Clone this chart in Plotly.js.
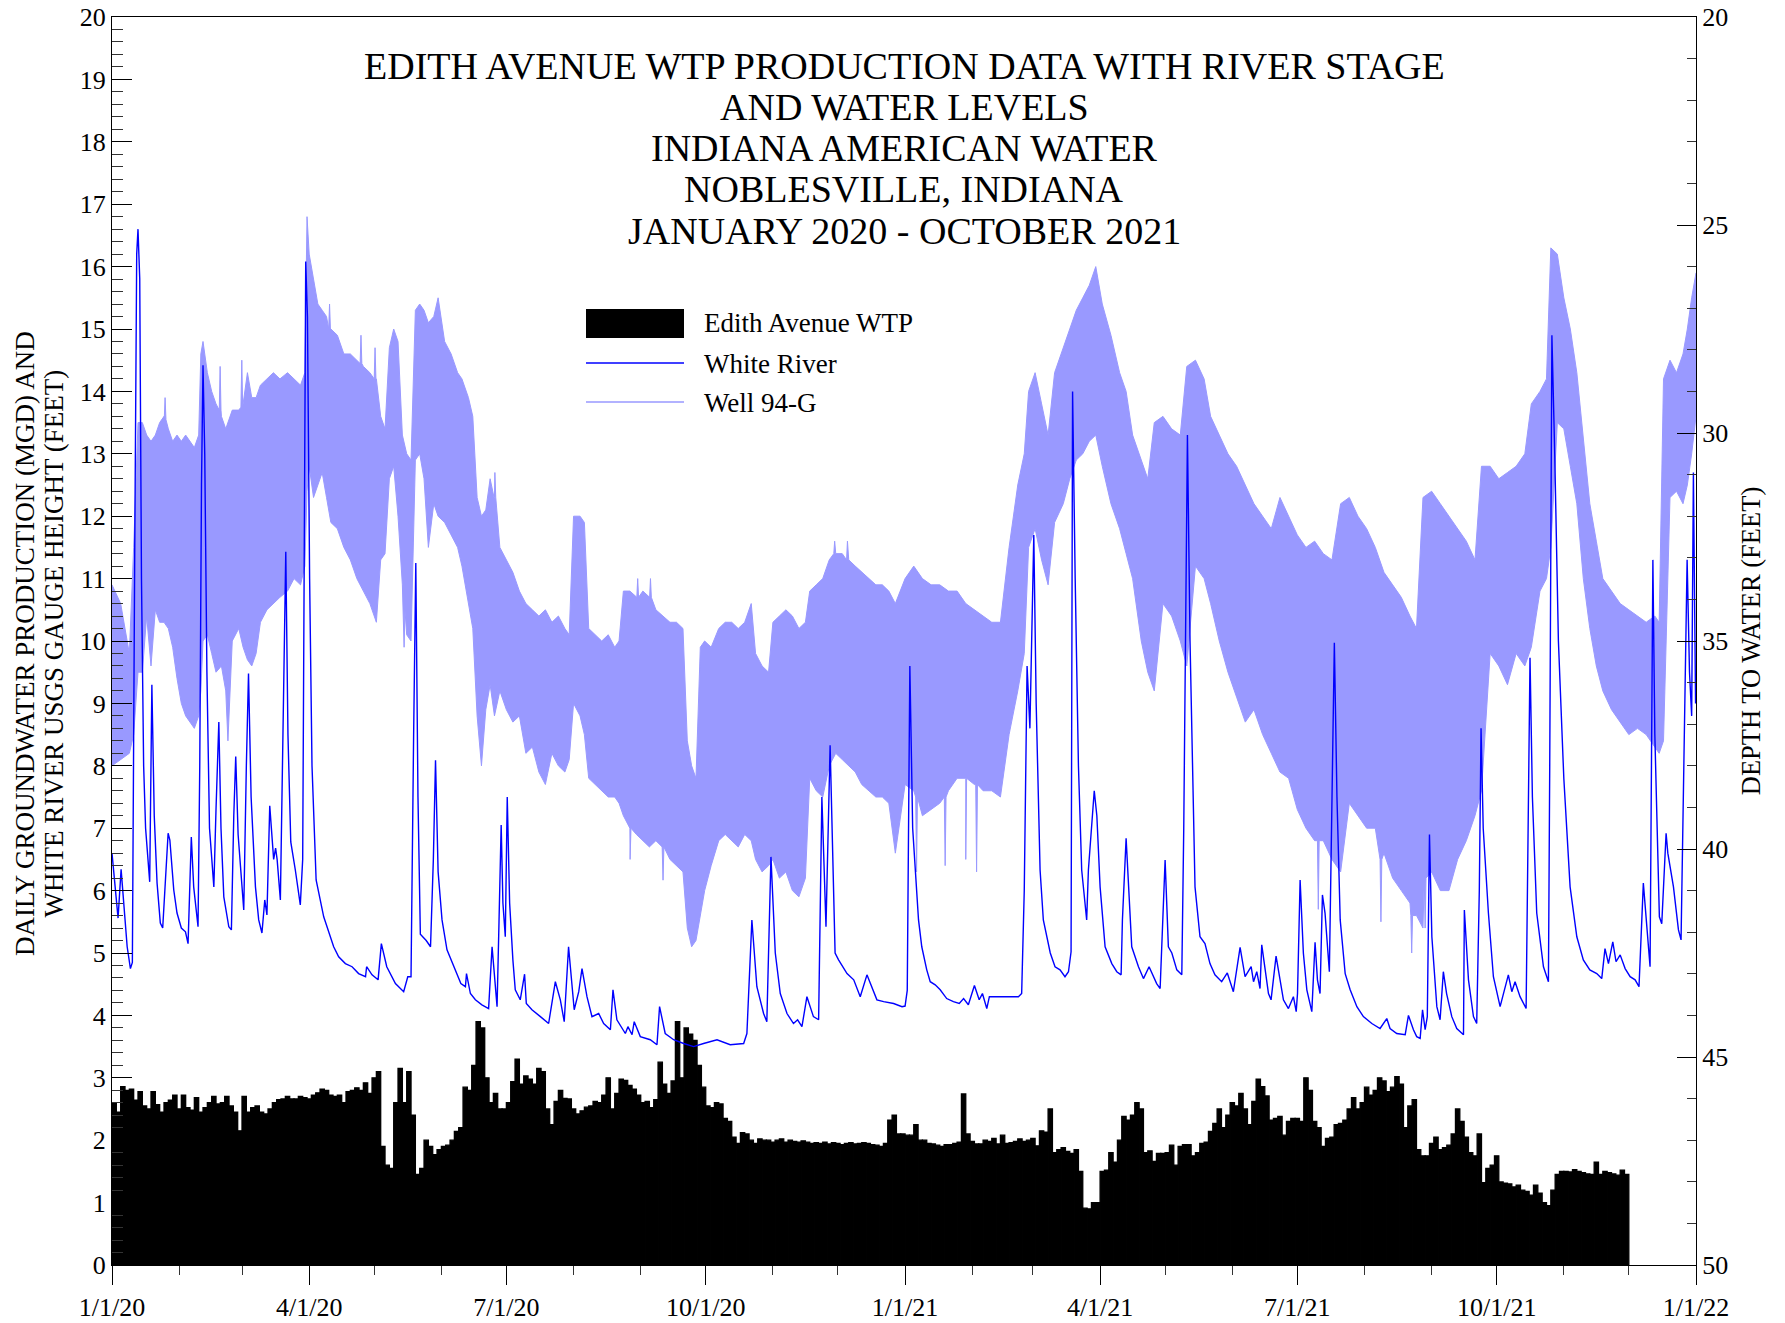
<!DOCTYPE html>
<html><head><meta charset="utf-8">
<script src="https://cdn.plot.ly/plotly-3.0.1.min.js"></script>
<style>html,body{margin:0;padding:0;background:#fff}#chart{width:1785px;height:1323px}</style>
</head><body><div id="chart"></div>
<script>
const FONT = 'Liberation Serif, Times New Roman, serif';
const DAY_MS = 86400000;
const START = Date.UTC(2020, 0, 1);
function dayToDate(d) { return new Date(START + d * DAY_MS).toISOString().slice(0, 19).replace('T', ' '); }

// Edith Avenue WTP production (MGD), one value per 2-day period starting 1/1/20
const prodMGD = [
2.6,2.45,2.86,2.8,2.82,2.64,2.78,2.55,2.5,2.78,
2.57,2.45,2.6,2.64,2.72,2.5,2.72,2.52,2.48,2.68,
2.45,2.52,2.6,2.7,2.58,2.6,2.7,2.55,2.45,2.15,
2.7,2.45,2.52,2.55,2.45,2.42,2.5,2.6,2.65,2.66,
2.7,2.66,2.66,2.7,2.68,2.66,2.72,2.76,2.82,2.8,
2.72,2.7,2.72,2.6,2.78,2.8,2.84,2.8,2.92,2.75,
3.0,3.1,1.9,1.6,1.55,2.6,3.15,2.6,3.1,2.4,
1.45,1.55,2.0,1.9,1.77,1.85,1.9,1.92,2.0,2.14,
2.2,2.85,2.8,3.2,3.9,3.8,3.0,2.6,2.75,2.5,
2.5,
2.6,2.94,3.3,2.9,3.03,2.98,2.9,3.15,3.1,2.5,
2.25,2.62,2.8,2.67,2.66,2.5,2.42,2.47,2.53,2.55,
2.62,2.6,2.72,3.0,2.5,2.75,2.98,2.96,2.88,2.82,
2.72,2.6,2.62,2.52,2.65,3.25,2.9,2.75,2.95,3.9,
3.0,3.8,3.7,3.6,3.2,2.85,2.55,2.52,2.6,2.58,
2.35,2.3,2.05,1.95,2.12,2.1,2.0,1.95,2.02,2.0,
2.0,1.97,2.0,2.02,1.97,2.0,1.98,1.97,1.99,1.97,
1.95,1.96,1.95,1.97,1.94,1.96,1.95,1.93,1.95,1.96,
1.94,1.95,1.96,1.95,1.93,1.92,1.9,1.95,2.32,2.4,
2.1,2.1,2.08,2.08,2.25,2.0,2.0,1.95,1.94,1.92,
1.9,1.93,1.93,1.95,1.97,2.74,2.1,1.98,1.94,1.94,
2.0,1.98,2.03,1.94,2.08,1.95,1.96,1.98,2.02,1.98,
2.0,2.03,1.91,2.15,2.13,2.5,1.8,1.85,1.88,1.82,
1.79,1.85,1.5,0.91,0.9,1.0,1.0,1.5,1.52,1.8,
1.65,2.0,2.38,2.32,2.4,2.6,2.5,1.8,1.83,1.66,
1.79,1.79,1.8,1.92,1.6,1.9,1.93,1.93,1.75,1.8,
1.95,1.97,2.14,2.27,2.5,2.2,2.4,2.6,2.55,2.75,
2.5,2.25,2.62,2.98,2.86,2.71,2.32,2.35,2.38,2.08,
2.3,2.35,
2.35,2.3,3.0,2.8,2.3,2.2,1.9,2.03,2.05,2.25,
2.27,2.32,2.5,2.68,2.5,2.6,2.85,2.72,2.8,3.0,
2.95,2.78,2.85,3.02,2.9,2.2,2.55,2.65,1.85,1.75,
1.75,1.95,2.05,1.85,1.88,1.92,2.1,2.5,2.3,2.05,
1.8,1.75,2.1,1.32,1.55,1.6,1.75,1.33,1.31,1.3,
1.25,1.28,1.2,1.18,1.12,1.28,1.15,1.0,0.95,1.2,
1.45,1.5,1.5,1.49,1.53,1.5,1.48,1.46,1.45,1.65,
1.45,1.5,1.48,1.46,1.44,1.52,1.45
];

// White River USGS gauge height (ft); riverDay = days after 1/1/20
const riverDay = [0,1.6,2.8,4.2,5.4,7,8.5,9.4,10.5,11.4,12,12.8,13.6,14.6,15.5,17.4,18.4,19.5,20.8,22.3,23.4,25.9,26.7,28.5,30,32,33.9,35.1,36.6,37.7,39.7,40.5,41.3,42,42.8,43.8,45,47,48,49.3,50.3,51.6,53.9,55.1,56.2,57.1,58.2,60,60.8,62,63,64.2,66.2,67.7,69.2,70.5,71.5,72.8,74.6,75.5,76.2,77.7,79,80.2,81.2,82.5,84.6,86.9,88,88.8,89.4,90.2,91.2,92.3,93.2,94.2,97.7,99.2,102.3,104.6,107.7,110.8,113.8,117,117.5,120,122.8,124.3,126.8,130.8,132.3,134.6,136.5,138,139.2,140.2,141.2,142.3,145,147,148.3,149.3,150.5,152.3,154.6,157,159.2,161,163.1,163.6,165.4,167.7,170.7,173.8,175.4,177.7,178.6,179.6,180.4,181.5,182.4,183.5,185,186.1,188.4,190.4,191.2,193.8,197.7,201.5,204.6,206.9,208.7,210.7,213.3,215.4,216.9,219.2,221.5,224.6,226.9,230,231.2,233,236.9,238.1,240,241,243.8,248.4,251.5,252.7,255.3,259.2,263.8,268.4,273,279.2,285.3,291.5,293,295.3,297.6,300.7,302.2,304.1,306.1,308.4,311.5,314.5,316.4,318.4,320.7,323.7,326.1,327.6,329.5,331.4,333.7,335.3,339.2,342.3,345.3,348.4,353,356.1,360.7,364.6,366,367,368.2,369.5,372.2,373.7,376,377.6,379.9,382.2,385.2,388.3,391,393,395.2,398,400.2,401.7,403.7,404.9,418.3,419.8,421,422.3,423.6,425.4,426.5,428.3,429.8,433,435.2,437.5,439.8,441.4,442.6,443.3,444.5,446,447.5,449.8,450.6,453.3,454.5,456,458.3,461.4,463.7,465.7,466.3,468,470.6,473.7,476,478.6,482.1,483.7,486,487.5,489.1,491.4,493.7,494.6,496.3,497.5,499.8,502.1,504.4,506.7,509,512.1,514.7,517.5,520.6,522.9,525.7,526.8,528.3,529.8,530.6,533.7,534.9,537.2,540.6,542.9,545.2,546.5,547.1,548.3,549.8,551.4,553.7,555.2,556.3,557.5,558.6,559.8,561.8,563,564.1,565.3,566.8,569.1,571.4,574.5,577.5,581.4,585.2,588.3,589.8,592.9,596.8,598.3,600.6,602.1,603.7,604.8,606,607,608,609.1,611.4,612.9,614.4,615.9,618.3,620.6,623.7,624.1,626,628.3,629.8,631,631.8,632.8,635.2,637.5,640.6,644.4,646,647.5,649.8,652.6,653.5,654.4,655.5,657.5,660.6,662.9,663.5,664.5,665.8,667.5,670,672.9,676,679,682,685.2,687.5,689,690.6,692.6,694.1,696,698.3,700.6,702.9,704.7,706.7,709.8,711.1,712,714.1,715.2,717.2,718,720.6,722.9,724.1,725.5,726.9,728,729,729.8,730.8];
const riverFt = [6.6,5.96,5.56,6.34,5.74,5.1,4.75,4.85,11.5,16.2,16.6,15.8,11,8.0,7.0,6.14,9.3,7.2,6.12,5.48,5.4,6.92,6.81,6.01,5.64,5.4,5.34,5.15,6.86,6.06,5.42,8,12.5,14.42,13,9.5,7,6.06,7.3,8.7,7.0,5.9,5.42,5.37,7.2,8.15,6.9,6.12,5.69,8.0,9.48,7.5,6.06,5.53,5.32,5.85,5.61,7.36,6.5,6.68,6.5,5.85,8.5,11.43,8.5,6.78,6.33,5.77,6.5,12,16.08,15.2,11,8,7.0,6.17,5.58,5.42,5.1,4.94,4.83,4.78,4.67,4.62,4.78,4.65,4.57,5.15,4.78,4.51,4.46,4.38,4.62,4.62,8.5,11.25,7.5,5.3,5.2,5.1,6.5,8.09,6.3,5.53,5.05,4.85,4.67,4.51,4.46,4.67,4.35,4.25,4.17,4.11,5.1,4.14,5.5,7.05,5.8,5.26,7.5,5.8,4.89,4.41,4.25,4.66,4.19,4.09,3.98,3.87,4.54,4.25,3.9,5.1,4.09,4.38,4.75,4.3,3.98,4.03,3.87,3.77,4.41,3.93,3.71,3.82,3.69,3.9,3.66,3.61,3.53,4.14,3.71,3.61,3.55,3.5,3.55,3.61,3.53,3.55,3.71,5.53,4.46,4.03,3.9,6.54,5.0,4.35,4.03,3.87,3.93,3.82,4.3,3.98,3.93,7.5,5.42,8.33,5.0,4.89,4.67,4.57,4.3,4.65,4.25,4.22,4.19,4.14,4.15,4.4,9.6,7,5.53,5.1,4.73,4.54,4.49,4.41,4.27,4.22,4.19,4.27,4.17,4.48,4.25,4.35,4.11,4.3,4.3,4.35,6,9.6,8.6,11.7,9,6.33,5.53,5.0,4.78,4.73,4.62,4.7,5.02,14.0,11,8,6.33,5.53,6.33,7.6,7.2,6.06,5.1,4.83,4.7,4.65,5.53,6.84,5.1,4.78,4.59,4.78,4.51,4.43,6.49,5.1,5.0,4.73,4.65,7,13.3,10,6.06,5.26,5.15,4.83,4.65,4.54,4.68,4.38,5.09,4.62,4.78,4.54,4.7,4.43,5.13,4.35,4.25,4.95,4.25,4.11,4.3,4.06,4.35,6.17,5.0,4.41,4.06,5.17,4.57,4.35,5.93,5.64,4.7,7.5,9.97,7.5,5.53,4.67,4.41,4.14,3.98,3.87,3.79,3.95,3.79,3.71,3.69,4.0,3.77,3.66,3.63,4.09,3.77,3.98,6.9,5.26,4.14,3.93,4.7,4.35,3.98,3.79,3.69,5.69,4.57,3.98,3.87,6,8.6,7,5.64,4.62,4.14,4.65,4.38,4.54,4.3,4.11,7,9.73,7.5,5.64,4.78,4.54,8,14.9,13,10,7.8,6.06,5.26,4.89,4.73,4.67,4.59,5.07,4.83,5.18,4.86,4.97,4.75,4.62,4.57,4.46,6.12,4.78,11.3,8.5,5.58,5.47,6.92,6.6,6.06,5.37,5.21,8.5,11.3,9.5,8.8,12.7,9.0];

// Well 94-G depth to water (ft): shallow and deep edges of the daily fluctuation band
const wellDay = [0,4,8,10,12,14,16,18,20,22,24,26,28,30,32,34,36,38,40,41,42,44,46,48,50.5,52.5,53.5,55.5,58.5,60.5,62.5,64.5,66.5,68.5,71.5,74.5,77.5,81,84,87,89,90,91,93,95,97,99,101,104,107,110,113,116,119,122,124,126,128,130,132,134,136,138,140,142,144,146,148.5,150.5,153.5,156.5,159.5,161.5,164.5,166.5,168.5,170.5,172.5,174.5,176.5,179,182,185,188,191,194,197,200,203,206,209,211,213,216,218,220,223,226,229,232,234,236,239,242,245,248,251,254.5,257.5,260.5,263.5,265.5,267.5,269.5,271.5,273.5,276.5,280,283,286,289,292,295,297,300,303,305,308,311,314,317,320,322,325,328,331,334,337,340,343,346,349,352.5,355.5,358.5,361.5,366,370,374,378,382,386,390,394,398,402,406,410,414,418,421,423,426,429,432,435,439,442,445,448,451,454,457,461,465,468,471,475,478,481,485,489,493,496,500,504,507,511,515,519,523,527,531,535,539,543,547,551,555,559,563,567,571,575,579,583,587,591,595,599,602,605,609,613,617,621,625,629,632,636,640,644,648,652,655,659,662,664,667,670,673,676,679,682,685,688,692,696,700,704,708,712,714,716,719,722,725,727,729,731];
const wellTopDepth = [33.65,34.1,35.3,32.75,29.75,29.75,30.05,30.2,30.05,29.75,29.6,29.9,30.2,30.05,30.2,30.05,30.2,30.35,30.05,28.1,27.8,28.55,29.0,29.3,29.6,29.9,29.75,29.45,29.45,29.3,28.55,29.15,29.15,28.85,28.7,28.55,28.7,28.55,28.7,28.85,28.55,24.8,25.7,26.3,26.9,27.05,27.2,27.5,27.65,28.1,28.1,28.25,28.4,28.55,28.7,29.6,29.9,27.95,27.5,27.8,30.05,30.5,30.65,27.05,26.9,27.05,27.35,27.2,26.75,27.8,28.1,28.55,28.7,29.15,29.6,31.55,32.0,31.85,31.1,31.55,32.75,33.05,33.35,33.8,34.1,34.25,34.4,34.25,34.55,34.4,34.7,34.85,32.0,32.0,32.15,34.7,34.85,35.0,34.85,35.15,35.0,33.8,33.8,33.95,33.8,33.95,34.25,34.4,34.55,34.55,34.7,37.4,38.0,38.3,35.15,35.0,35.15,34.7,34.55,34.55,34.7,34.55,34.1,35.3,35.6,35.75,34.55,34.4,34.25,34.4,34.7,34.55,33.8,33.65,33.5,33.05,32.9,32.9,33.05,33.2,33.35,33.5,33.65,33.65,33.8,34.1,33.5,33.2,33.5,33.65,33.65,33.8,33.8,34.1,34.25,34.4,34.55,34.55,32.75,31.25,30.5,29.0,28.55,29.3,30.05,28.55,27.95,27.5,27.05,26.75,26.45,26.0,26.9,27.65,28.55,29.0,30.05,30.65,31.1,29.75,29.6,29.9,30.05,28.4,28.25,28.7,29.6,30.05,30.5,30.8,31.25,31.7,32.0,32.3,31.55,32.0,32.45,32.75,32.6,32.9,33.05,31.7,31.55,32.0,32.3,32.75,33.35,33.65,33.95,34.4,34.7,31.55,31.4,31.7,32.0,32.3,32.6,33.05,30.8,30.8,31.1,30.95,30.8,30.5,29.3,29.0,28.7,25.55,25.7,26.75,27.5,28.55,30.2,31.7,32.6,33.5,33.8,34.1,34.25,34.4,34.55,34.4,34.55,28.7,28.25,28.55,28.1,27.5,26.75,26.15];
const wellBottomDepth = [38.0,37.85,37.7,37.25,35.75,35.75,34.4,35.6,34.25,34.55,34.55,34.7,35.15,35.9,36.5,36.8,36.95,37.1,36.8,36.2,35.0,34.85,35.3,35.75,35.6,36.2,37.4,35.0,34.7,35.15,35.45,35.6,35.3,34.55,34.25,34.1,33.95,33.8,33.5,33.65,33.2,31.4,30.8,31.55,31.25,30.95,31.55,32.15,32.3,32.75,33.05,33.5,33.8,34.1,34.55,33.05,32.9,31.1,30.8,32.0,33.65,34.85,35.0,30.65,30.5,31.1,32.75,31.7,32.0,32.15,32.45,32.75,33.2,34.1,34.7,36.8,38.0,36.65,36.05,36.8,36.2,36.65,36.95,36.8,37.7,37.55,38.15,38.45,37.7,38.0,38.15,37.85,36.5,36.8,37.25,38.3,38.45,38.6,38.75,38.75,38.9,39.2,39.5,39.65,39.8,39.95,39.8,39.95,40.25,40.4,40.55,41.9,42.35,42.2,41.6,41.0,40.4,39.8,39.65,39.8,39.95,39.65,39.8,40.25,40.55,40.4,40.25,40.7,40.55,41.0,41.15,40.7,38.3,38.6,38.75,38.0,37.7,37.85,38.0,38.15,38.45,38.6,38.75,38.75,38.9,40.1,38.45,38.6,39.2,39.05,38.9,38.6,38.3,38.3,38.45,38.6,38.6,38.75,37.25,36.2,35.3,32.75,32.3,33.05,33.65,32.15,31.7,31.1,30.65,30.5,30.2,30.05,30.8,31.7,32.3,32.9,33.5,35.0,35.75,36.2,34.1,34.4,35.0,35.6,33.2,33.5,34.1,35.0,35.75,36.35,36.95,36.65,37.25,37.7,38.15,38.3,39.05,39.5,39.8,39.8,40.25,40.55,38.9,39.2,39.5,39.5,40.1,40.7,41.0,41.3,41.6,41.9,40.55,41.0,41.0,40.25,39.8,39.2,38.6,35.3,35.6,36.05,35.3,35.6,35.15,33.8,33.5,32.75,29.75,29.9,30.8,31.7,33.5,34.7,35.6,36.2,36.65,36.95,37.25,37.1,37.25,37.55,37.7,37.4,31.55,31.4,31.7,31.25,30.5,29.6,28.7];
// isolated short-lived excursions of the well band (day, depth ft)
const wellTopSpikeDay = [24.1,24.5,24.9, 49.5,49.9,50.3, 59.5,59.9,60.3, 100.0,100.4,100.8, 114.5,114.9,115.3, 121.0,121.4,121.8, 176.3,176.7,177.1, 242.2,242.6,243.0, 248.1,248.5,248.9, 333.1,333.5,333.9, 339.0,339.4,339.8];
const wellTopSpikeDepth = [29.68,29.15,29.68, 29.45,28.4,29.45, 29.38,28.25,29.38, 27.5,26.9,27.5, 28.33,27.65,28.33, 28.7,27.95,28.7, 31.55,30.95,31.55, 33.95,33.5,33.95, 33.95,33.5,33.95, 32.9,32.6,32.9, 33.05,32.6,33.05];
const wellBottomSpikeDay = [134.4,134.8,135.2, 238.7,239.1,239.5, 253.9,254.3,254.7, 370.9,371.3,371.7, 384.1,384.5,384.9, 393.6,394.0,394.4, 398.6,399.0,399.4, 556.3,556.7,557.1, 585.2,585.6,586.0, 599.4,599.8,600.2, 605.6,606.0,606.4];
const wellBottomSpikeDepth = [34.25,35.15,34.25, 39.5,40.25,39.5, 39.95,40.75,39.95, 38.75,40.55,38.75, 38.75,40.4,38.75, 38.3,40.25,38.3, 38.45,40.55,38.45, 39.8,41.45,39.8, 40.25,41.75,40.25, 41.6,42.5,41.6, 40.7,41.9,40.7];

const xTickDates = ['2020-01-01','2020-04-01','2020-07-01','2020-10-01','2021-01-01','2021-04-01','2021-07-01','2021-10-01','2022-01-01'];
const xTickLabels = ['1/1/20','4/1/20','7/1/20','10/1/20','1/1/21','4/1/21','7/1/21','10/1/21','1/1/22'];
const titleLines = ['EDITH AVENUE WTP PRODUCTION DATA WITH RIVER STAGE','AND WATER LEVELS','INDIANA AMERICAN WATER','NOBLESVILLE, INDIANA','JANUARY 2020 - OCTOBER 2021'];
const leftTitleLines = ['DAILY GROUNDWATER PRODUCTION (MGD) AND','WHITE RIVER USGS GAUGE HEIGHT (FEET)'];
const rightTitle = 'DEPTH TO WATER (FEET)';
const seriesNames = ['Edith Avenue WTP','White River','Well 94-G'];

const WELL_COLOR = 'rgb(153,153,255)';
const RIVER_COLOR = 'rgb(0,0,255)';

function mergeSeries(d1, v1, d2, v2) {
  const pts = d1.map((d,i) => [d, v1[i]]).concat(d2.map((d,i) => [d, v2[i]]));
  pts.sort((a,b) => a[0] - b[0]);
  return {x: pts.map(p => dayToDate(p[0])), y: pts.map(p => p[1])};
}
const wellBottom = mergeSeries(wellDay, wellBottomDepth, wellBottomSpikeDay, wellBottomSpikeDepth);
const wellTop = mergeSeries(wellDay, wellTopDepth, wellTopSpikeDay, wellTopSpikeDepth);

const traces = [
  {type:'bar', name:seriesNames[0], x0:'2020-01-02', dx:2*DAY_MS, y:prodMGD, width:2*DAY_MS,
   marker:{color:'black', line:{color:'black', width:1.3}}, xaxis:'x', yaxis:'y', hoverinfo:'skip'},
  {type:'scatter', mode:'lines', name:seriesNames[2], x:wellBottom.x, y:wellBottom.y, xaxis:'x', yaxis:'y2',
   line:{color:WELL_COLOR, width:1}, hoverinfo:'skip'},
  {type:'scatter', mode:'lines', name:seriesNames[2], x:wellTop.x, y:wellTop.y, xaxis:'x', yaxis:'y2',
   fill:'tonexty', fillcolor:WELL_COLOR, line:{color:WELL_COLOR, width:1}, hoverinfo:'skip'},
  {type:'scatter', mode:'lines', name:seriesNames[1], x:riverDay.map(dayToDate), y:riverFt, xaxis:'x', yaxis:'y3',
   line:{color:RIVER_COLOR, width:1.4}, hoverinfo:'skip'}
];

const xRange = ['2020-01-01','2022-01-01'];
const L = 112, R = 1696, T = 17, B = 1265;
function px(X){ return (X - L)/(R - L); }
function py(Y){ return (B - Y)/(B - T); }

const annotations = titleLines.map((t,i) => ({
  text:t, xref:'paper', yref:'paper', x:0.5, xanchor:'center',
  y:py([66,107,148,189,231][i]), yanchor:'middle', showarrow:false,
  font:{family:FONT, size:38, color:'black'}
}));
[[323,seriesNames[0]],[364,seriesNames[1]],[403,seriesNames[2]]].forEach(([Y,t]) => annotations.push({
  text:t, xref:'paper', yref:'paper', x:px(702), xanchor:'left', y:py(Y), yanchor:'middle',
  showarrow:false, font:{family:FONT, size:27, color:'black'}
}));
leftTitleLines.forEach((t,i) => annotations.push({
  text:t, xref:'paper', yref:'paper', x:px([25,53.5][i]), xanchor:'center', y:py(644), yanchor:'middle',
  textangle:-90, showarrow:false, font:{family:FONT, size:27, color:'black'}
}));

const shapes = [
  {type:'rect', xref:'paper', yref:'paper', x0:px(586), x1:px(684), y0:py(338), y1:py(309), fillcolor:'black', line:{width:0}},
  {type:'line', xref:'paper', yref:'paper', x0:px(586), x1:px(684), y0:py(363), y1:py(363), line:{color:RIVER_COLOR, width:1.5}},
  {type:'line', xref:'paper', yref:'paper', x0:px(586), x1:px(684), y0:py(402), y1:py(402), line:{color:WELL_COLOR, width:1.5}}
];

const layout = {
  width:1785, height:1323,
  margin:{l:112, r:89, t:17, b:58, pad:0},
  paper_bgcolor:'white', plot_bgcolor:'white',
  showlegend:false,
  font:{family:FONT, size:26, color:'black'},
  xaxis:{type:'date', range:xRange, autorange:false, tickmode:'array', tickvals:xTickDates, ticktext:xTickLabels,
    ticks:'outside', ticklen:19, tickwidth:1, tickcolor:'black', showline:true, linecolor:'black', linewidth:1,
    mirror:true, showgrid:false, zeroline:false, tickfont:{family:FONT, size:26, color:'black'},
    minor:{tickmode:'linear', tick0:'2020-01-01', dtick:'M1', ticks:'outside', ticklen:9, tickwidth:1, tickcolor:'#333', showgrid:false}},
  xaxis2:{type:'date', range:xRange, autorange:false, overlaying:'x', side:'top', anchor:'y',
    tickmode:'array', tickvals:xTickDates, ticktext:xTickLabels, showticklabels:false,
    ticks:'inside', ticklen:20, tickwidth:1, tickcolor:'black', showline:true, linecolor:'black', showgrid:false, zeroline:false,
    minor:{tickmode:'linear', tick0:'2020-01-01', dtick:'M1', ticks:'inside', ticklen:10, tickwidth:1, tickcolor:'#333', showgrid:false}},
  yaxis:{range:[0,20], autorange:false, tickmode:'linear', tick0:0, dtick:1, ticks:'inside', ticklen:20, tickwidth:1, tickcolor:'black',
    showline:true, linecolor:'black', linewidth:1, showgrid:false, zeroline:false, tickfont:{family:FONT, size:26, color:'black'},
    minor:{tickmode:'linear', tick0:0, dtick:0.2, ticks:'inside', ticklen:11, tickwidth:1, tickcolor:'#333', showgrid:false}},
  yaxis2:{range:[50,20], autorange:false, overlaying:'y', side:'right', anchor:'x', tickmode:'linear', tick0:20, dtick:5,
    ticks:'inside', ticklen:19, tickwidth:1, tickcolor:'black', showline:true, linecolor:'black', linewidth:1,
    showgrid:false, zeroline:false, tickfont:{family:FONT, size:26, color:'black'},
    minor:{tickmode:'linear', tick0:20, dtick:1, ticks:'inside', ticklen:9, tickwidth:1, tickcolor:'#333', showgrid:false},
    title:{text:rightTitle, font:{family:FONT, size:26.5, color:'black'}, standoff:14}},
  yaxis3:{range:[0,20], autorange:false, overlaying:'y', visible:false},
  annotations:annotations,
  shapes:shapes
};

Plotly.newPlot('chart', traces, layout, {displayModeBar:false, staticPlot:true});
</script>
</body></html>
